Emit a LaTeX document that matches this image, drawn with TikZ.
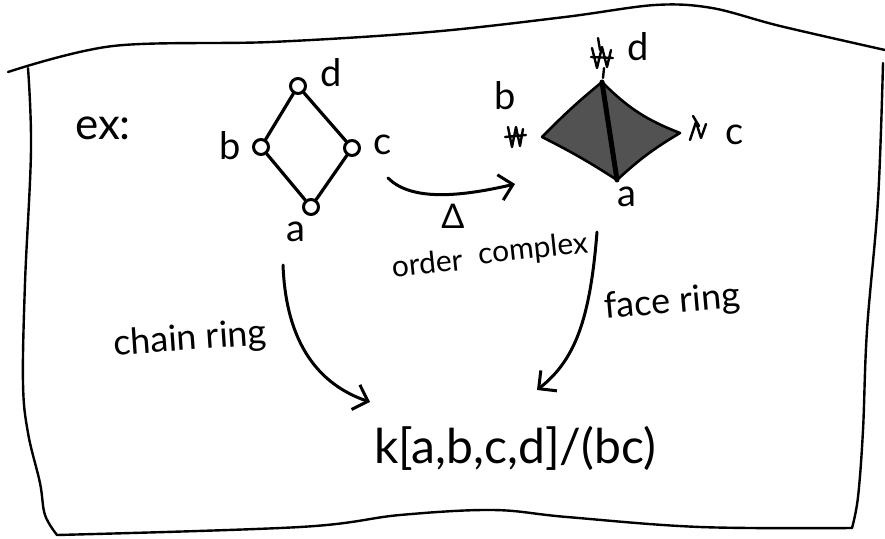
\documentclass[tikz,border=0pt]{standalone}
\usepackage{fontspec}
\setmainfont{Lato}
\usetikzlibrary{arrows.meta}
\begin{document}
\begin{tikzpicture}[x=1pt,y=-1pt, line cap=round, line join=round,
  ink/.style={line width=3.2pt},
  frame/.style={line width=2.4pt},
  vtx/.style={circle,draw,line width=3pt,inner sep=0pt,minimum size=15pt,fill=white},
  lbl/.style={font=\fontsize{38}{38}\selectfont, inner sep=0pt},
  hw/.style={font=\fontsize{36}{36}\selectfont, inner sep=0pt},
  oct/.style={font=\fontsize{30}{30}\selectfont, inner sep=0pt, rotate=6},
  scrib/.style={line width=2.4pt},
  arr/.style={line width=3pt,-{Straight Barb[length=13pt,width=26pt,line width=3pt]}},
]
\useasboundingbox (0,0) rectangle (885,538);
% frame
\draw[frame] plot[smooth,tension=0.55] coordinates {(8,72) (113,46) (271,42) (430,32) (565,17) (655,5) (712,8) (780,26) (885,50)};
\draw[frame] plot[smooth,tension=0.6] coordinates {(28,68) (31,150) (25,283) (23,383) (28,433) (40,483) (45,515) (57,535)};
\draw[frame] plot[smooth,tension=0.6] coordinates {(57,535) (300,527) (400,515) (493,510) (567,517) (700,527) (852,528)};
\draw[frame] plot[smooth,tension=0.6] coordinates {(883,63) (878,200) (867,330) (863,430) (858,497) (852,528)};
% ex
\node[font=\fontsize{44}{44}\selectfont, inner sep=0pt] (ex) at (103,128) {ex:};
% poset
\node[vtx] (pd) at (298,86) {};
\node[vtx] (pb) at (261,147) {};
\node[vtx] (pc) at (352,148) {};
\node[vtx] (pa) at (311,207) {};
\draw[ink] (pa) -- (pb) -- (pd) -- (pc) -- (pa);
\node[lbl] (ld) at (331,73) {d};
\node[lbl] (lb) at (230,146) {b};
\node[lbl] (lc) at (383,145) {c};
\node[lbl] (la) at (296,232) {a};
% order complex
\coordinate (cb) at (542,137);
\coordinate (cd) at (602,82);
\coordinate (cc) at (680,133);
\coordinate (ca) at (617,180);
\fill[black!68] (cb) to[bend left=3] (cd) to[bend right=12] (cc) to[bend right=6] (ca) to[bend right=3] (cb) -- cycle;
\draw[line width=2.6pt] (cb) to[bend left=3] (cd) to[bend right=12] (cc) to[bend right=6] (ca) to[bend right=3] (cb);
\draw[line width=5pt] (cd) -- (ca);
\draw[scrib] (508,127) -- (512,147) -- (516,127) -- (520,146) -- (523,129) (505,137) -- (526,135);
\draw[scrib] (598,38) -- (600,50) (592,48) -- (597,68) -- (602,47) -- (607,67) -- (611,50) (591,57) -- (613,58) (604,68) -- (603,78);
\draw[scrib] (693,116) -- (699,126) (690,140) -- (696,122) -- (701,138) -- (706,124);
\node[lbl] (kd) at (638,47) {d};
\node[lbl] (kb) at (505,96) {b};
\node[lbl] (kc) at (735,135) {c};
\node[lbl] (ka) at (627,197) {a};
% arrows
\coordinate (o1) at (388,178);
\coordinate (o2) at (515,184);
\draw[arr] (o1) .. controls (410,200) and (455,198) .. (o2);
\node[font=\fontsize{34}{34}\selectfont, inner sep=0pt] (delta) at (453,216) {Δ};
\node[oct] (oc1) at (427,263) {order};
\node[oct] (oc2) at (533,250) {complex};
\coordinate (c1) at (283,265);
\coordinate (c2) at (370,402);
\draw[arr] (c1) .. controls (286,345) and (320,385) .. (c2);
\coordinate (f1) at (597,232);
\coordinate (f2) at (537,390);
\draw[arr] (f1) .. controls (590,320) and (575,360) .. (f2);
\node[hw, rotate=4] (chain) at (190,340) {chain ring};
\node[hw, rotate=5] (face) at (672,303) {face ring};
\node[font=\fontsize{48}{48}\selectfont, inner sep=0pt] (ring) at (515,448) {k[a,b,c,d]/(bc)};
\end{tikzpicture}
\end{document}
